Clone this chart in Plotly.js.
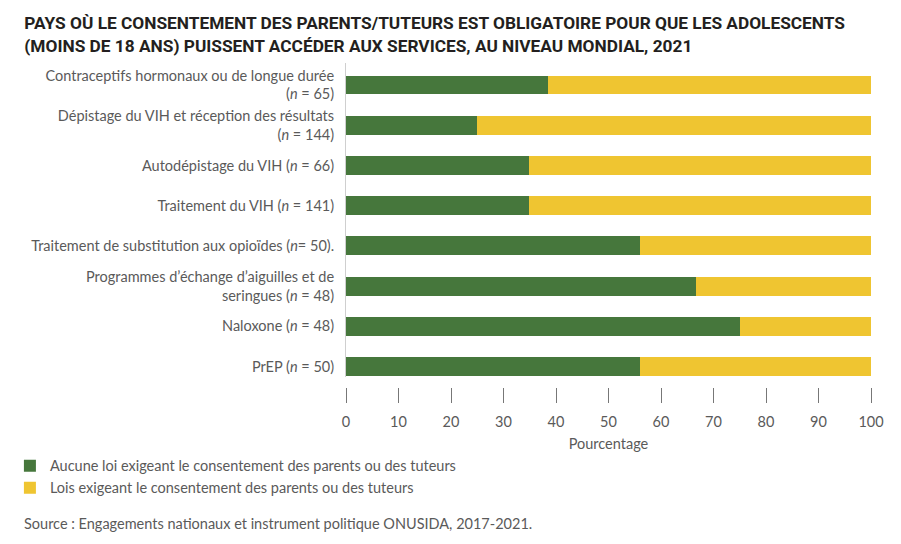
<!DOCTYPE html>
<html>
<head>
<meta charset="utf-8">
<script src="https://cdn.plot.ly/plotly-3.0.1.min.js"></script>
<style>html,body{margin:0;padding:0;background:#fff;}#chart{width:901px;height:544px;}</style>
</head>
<body>
<div id="chart"></div>
<script>
const categories = [
  "Contraceptifs hormonaux ou de longue durée<br>(<i>n</i> = 65)",
  "Dépistage du VIH et réception des résultats<br>(<i>n</i> = 144)",
  "Autodépistage du VIH (<i>n</i> = 66)",
  "Traitement du VIH (<i>n</i> = 141)",
  "Traitement de substitution aux opioïdes (<i>n</i>= 50).",
  "Programmes d’échange d’aiguilles et de<br>seringues (<i>n</i> = 48)",
  "Naloxone (<i>n</i> = 48)",
  "PrEP (<i>n</i> = 50)"
];
const noLaw = [38.5, 25.0, 34.8, 34.8, 56.0, 66.7, 75.0, 56.0];
const withLaw = [61.5, 75.0, 65.2, 65.2, 44.0, 33.3, 25.0, 44.0];
const seriesNames = [
  "Aucune loi exigeant le consentement des parents ou des tuteurs",
  "Lois exigeant le consentement des parents ou des tuteurs"
];
const xTicks = [0, 10, 20, 30, 40, 50, 60, 70, 80, 90, 100];

const green = "#46773c", yellow = "#efc531";
const txt = "#5a5a5a";
const fs = 14.5;

const traces = [
  {type: "bar", orientation: "h", y: categories, x: noLaw, name: seriesNames[0],
   marker: {color: green}, legendgroup: "a", hoverinfo: "x"},
  {type: "bar", orientation: "h", y: categories, x: withLaw, name: seriesNames[1],
   marker: {color: yellow}, legendgroup: "b", hoverinfo: "x"}
];

const layout = {
  width: 901, height: 544,
  paper_bgcolor: "#fff", plot_bgcolor: "#fff",
  margin: {l: 346, r: 30, t: 63, b: 157, autoexpand: false},
  barmode: "stack", bargap: 0.53,
  font: {family: "Lato, 'Noto Sans', sans-serif", size: fs, color: txt},
  title: {
    text: "<b>PAYS OÙ LE CONSENTEMENT DES PARENTS/TUTEURS EST OBLIGATOIRE POUR QUE LES ADOLESCENTS<br>(MOINS DE 18 ANS) PUISSENT ACCÉDER AUX SERVICES, AU NIVEAU MONDIAL, 2021</b>",
    font: {family: "Roboto, sans-serif", size: 17.3, color: "#231f20"},
    x: 0.027, xanchor: "left", xref: "container", y: 0.946, yanchor: "top", yref: "container"
  },
  xaxis: {
    range: [0, 100], tickvals: xTicks, ticktext: xTicks.map(String),
    showgrid: false, zeroline: false, showline: false,
    ticks: "outside", ticklen: 15, tickcolor: "#777", tickwidth: 1,
    anchor: "free", position: 0, ticklabelstandoff: 7,
    tickfont: {size: fs, color: txt},
    title: {text: "Pourcentage", font: {size: fs, color: txt}, standoff: 9}
  },
  yaxis: {
    domain: [0.0309, 1],
    range: [7.26, -0.547], type: "category",
    showgrid: false, zeroline: false,
    showline: true, linecolor: "#cfcfcf", linewidth: 1,
    ticks: "", ticklabelstandoff: 8,
    tickfont: {size: fs, color: txt}
  },
  showlegend: true,
  legend: {
    orientation: "v", xref: "container", x: 0.011, xanchor: "left", y: -0.194, yanchor: "top",
    traceorder: "normal", tracegroupgap: 11,
    font: {size: fs, color: txt}, itemclick: false
  },
  annotations: [{
    text: "Source : Engagements nationaux et instrument politique ONUSIDA, 2017-2021.",
    xref: "paper", yref: "paper", x: -0.618, xanchor: "left",
    y: -0.42, yanchor: "middle", showarrow: false,
    font: {size: fs, color: txt}
  }]
};

Plotly.newPlot("chart", traces, layout, {displayModeBar: false, staticPlot: true});
</script>
</body>
</html>
